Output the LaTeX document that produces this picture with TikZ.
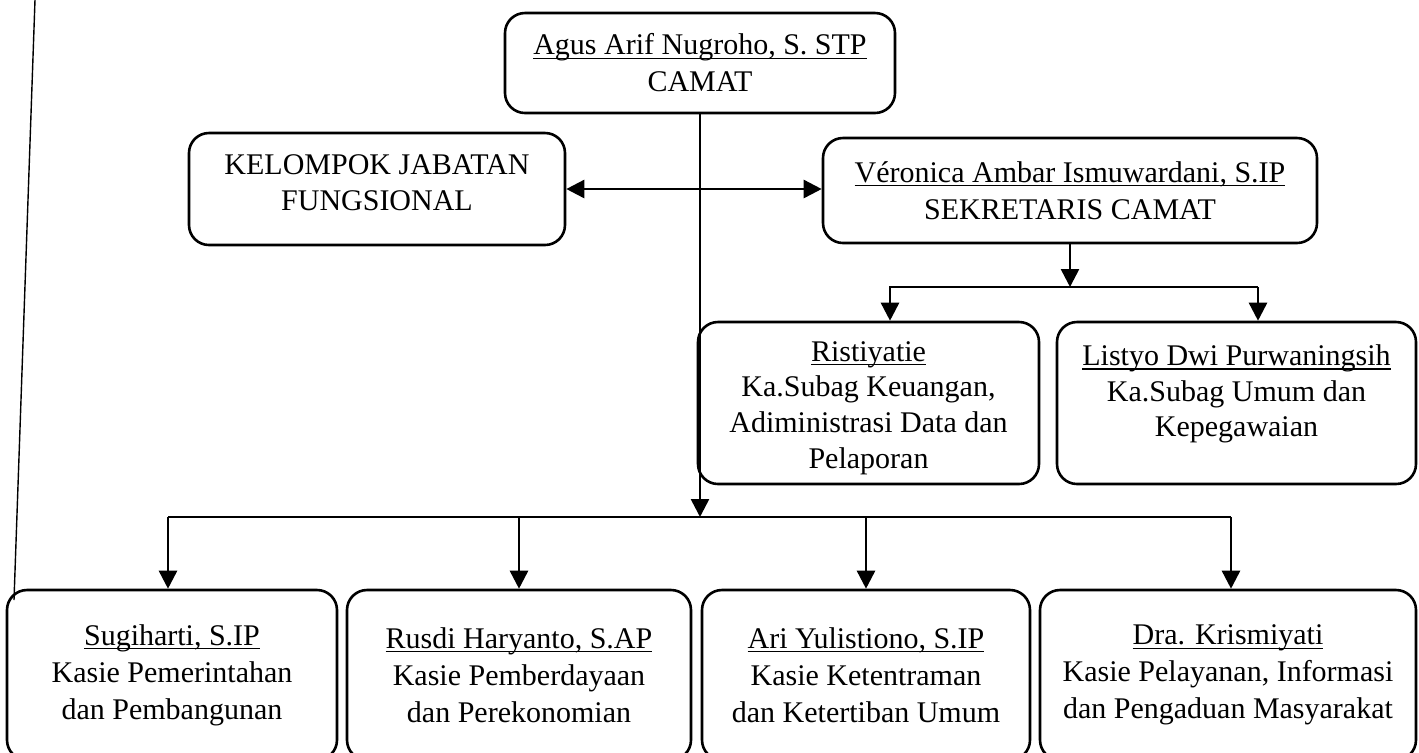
\documentclass[tikz,border=0pt]{standalone}
\usepackage{fontspec}
\setmainfont{Liberation Serif}
\usepackage{tikz}
\usetikzlibrary{arrows.meta, positioning}
\tikzstyle{jabatan} = [rectangle, draw, rounded corners=10pt, line width=1.3pt, align=center, inner sep=0pt, font=\fontsize{15}{18.5}\selectfont]
\tikzstyle{teks} = [align=center, inner sep=0pt, font=\fontsize{15}{17.8}\selectfont]
\tikzstyle{arrow} = [line width=1.3pt,-{Triangle[length=9pt,width=9pt]}]
\tikzstyle{dblarrow} = [line width=1.3pt,{Triangle[length=9pt,width=9pt]}-{Triangle[length=9pt,width=9pt]}]
\newcommand{\garisbawah}[1]{\setbox0\hbox{#1}\rlap{\rule[-2pt]{\wd0}{0.6pt}}\box0}

\begin{document}
\begin{tikzpicture}[x=0.5pt, y=-0.5pt]
            \useasboundingbox (0,0) rectangle (1419,752);
            \clip (0,0) rectangle (1419,752);

            \node (camat) [jabatan, minimum width=195pt, minimum height=50pt] at (700,63) {\garisbawah{Agus Arif Nugroho, S. STP}\\CAMAT};
            \node (kel) [jabatan, minimum width=188pt, minimum height=56pt] at (377,189) {};
            \node (kelT) [teks] at (377,183) {KELOMPOK JABATAN\\FUNGSIONAL};
            \node (sek) [jabatan, minimum width=247pt, minimum height=52.5pt] at (1070,190.5) {\garisbawah{Véronica Ambar Ismuwardani, S.IP}\\SEKRETARIS CAMAT};

            \node (rist) [jabatan, minimum width=170.5pt, minimum height=81pt] at (868.5,403) {};
            \node (ristT) [teks] at (868.5,408) {\garisbawah{Ristiyatie}\\Ka.Subag Keuangan,\\Adiministrasi Data dan\\Pelaporan};
            \node (list) [jabatan, minimum width=179.5pt, minimum height=81pt] at (1236.5,403) {};
            \node (listT) [teks] at (1236.5,394) {\garisbawah{Listyo Dwi Purwaningsih}\\Ka.Subag Umum dan\\Kepegawaian};

            \node (pem) [jabatan, minimum width=165pt, minimum height=85pt] at (172,675) {\garisbawah{Sugiharti, S.IP}\\Kasie Pemerintahan\\dan Pembangunan};
            \node (ekon) [jabatan, minimum width=172pt, minimum height=85pt] at (519,675) {\garisbawah{Rusdi Haryanto, S.AP}\\Kasie Pemberdayaan\\dan Perekonomian};
            \node (trantib) [jabatan, minimum width=164pt, minimum height=85pt] at (866,675) {\garisbawah{Ari Yulistiono, S.IP}\\Kasie Ketentraman\\dan Ketertiban Umum};
            \node (yan) [jabatan, minimum width=188pt, minimum height=85pt] at (1228,675) {\garisbawah{Dra. Krismiyati}\\Kasie Pelayanan, Informasi\\dan Pengaduan Masyarakat};

            % titik cabang
            \coordinate (busL) at (168,517);
            \coordinate (busR) at (1231,517);
            \coordinate (subL) at (890,287);
            \coordinate (subR) at (1258,287);
            \coordinate (tepiA) at (35,0);
            \coordinate (tepiB) at (14,600);

            \draw [line width=0.7pt] (tepiA) -- (tepiB);

            \draw [arrow] (camat.south) -- (camat.south |- busL);
            \draw [line width=1.3pt] (busL) -- (busR);
            \draw [arrow] (busL) -- (busL |- pem.north);
            \draw [arrow] (ekon.north |- busL) -- (ekon.north);
            \draw [arrow] (trantib.north |- busL) -- (trantib.north);
            \draw [arrow] (busR) -- (busR |- yan.north);

            \draw [dblarrow] (kel.east) -- (kel.east -| sek.west);

            \draw [arrow] (sek.south) -- (sek.south |- subL);
            \draw [arrow] (subR) -- (subL) -- (subL |- rist.north);
            \draw [arrow] (subR) -- (subR |- list.north);
        \end{tikzpicture}
\end{document}
